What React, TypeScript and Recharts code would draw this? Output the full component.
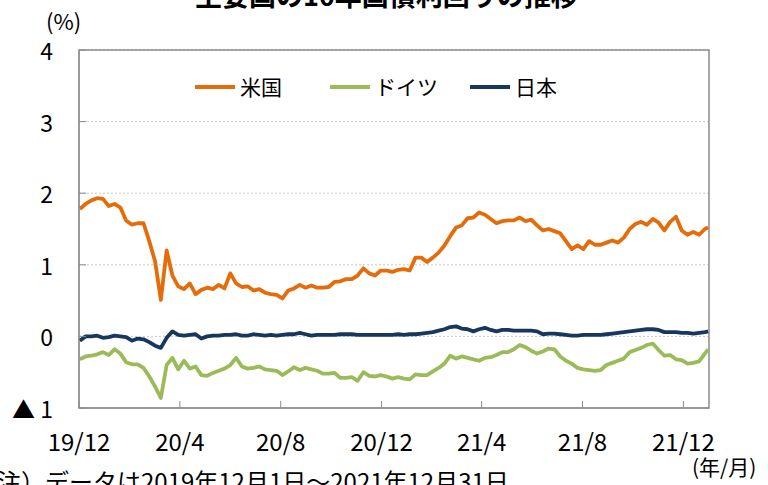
import {
  LineChart,
  Line,
  XAxis,
  YAxis,
  CartesianGrid,
  Legend,
  ReferenceArea,
} from "recharts";

const FONT = '"Noto Sans CJK JP", "Noto Sans", sans-serif';

const SERIES = [
  { key: "us", name: "米国", color: "#E46C0A" },
  { key: "de", name: "ドイツ", color: "#9BBB59" },
  { key: "jp", name: "日本", color: "#17375E" },
];

// weekly readings (Mondays from 2019-12-02), last value is 2021-12-31
const FIRST_WEEK = "2019-12-02";
const LAST_DAY = "2021-12-31";

const US = [
  1.78, 1.85, 1.9, 1.93, 1.92, 1.82, 1.85, 1.8, 1.62, 1.56,
  1.58, 1.58, 1.33, 1.05, 0.51, 1.2, 0.85, 0.7, 0.66, 0.74,
  0.59, 0.65, 0.68, 0.66, 0.72, 0.67, 0.88, 0.74, 0.69, 0.7,
  0.64, 0.66, 0.61, 0.59, 0.58, 0.53, 0.64, 0.67, 0.72, 0.68,
  0.71, 0.68, 0.68, 0.69, 0.76, 0.77, 0.8, 0.8, 0.85, 0.95,
  0.88, 0.85, 0.92, 0.92, 0.9, 0.93, 0.94, 0.92, 1.1, 1.1,
  1.04, 1.1, 1.17, 1.27, 1.4, 1.52, 1.55, 1.65, 1.66, 1.73,
  1.7, 1.64, 1.58, 1.61, 1.62, 1.62, 1.66, 1.61, 1.63, 1.55,
  1.48, 1.5, 1.47, 1.44, 1.33, 1.22, 1.27, 1.22, 1.33, 1.28,
  1.28, 1.31, 1.34, 1.31, 1.38, 1.5, 1.57, 1.6, 1.56, 1.64,
  1.59, 1.48, 1.6, 1.67, 1.48, 1.42, 1.46, 1.42, 1.5, 1.52,
];

const DE = [
  -0.32, -0.28, -0.27, -0.25, -0.22, -0.26, -0.18, -0.24, -0.36, -0.39,
  -0.39, -0.44, -0.56, -0.7, -0.86, -0.4, -0.3, -0.46, -0.34, -0.45,
  -0.42, -0.54, -0.55, -0.51, -0.48, -0.45, -0.4, -0.3, -0.42, -0.45,
  -0.44, -0.42, -0.46, -0.47, -0.48, -0.54, -0.49, -0.43, -0.47, -0.44,
  -0.46, -0.48, -0.52, -0.52, -0.51, -0.58, -0.58, -0.57, -0.62, -0.5,
  -0.55, -0.56, -0.54, -0.56, -0.59, -0.57, -0.59, -0.6, -0.53, -0.54,
  -0.54, -0.49, -0.44, -0.38, -0.27, -0.31, -0.28, -0.3, -0.32, -0.34,
  -0.3, -0.29, -0.26, -0.22, -0.22, -0.18, -0.12, -0.15, -0.2, -0.24,
  -0.21, -0.17, -0.18, -0.28, -0.34, -0.38, -0.44, -0.46, -0.47, -0.48,
  -0.47, -0.4, -0.37, -0.34, -0.31, -0.22, -0.19, -0.16, -0.12, -0.1,
  -0.19, -0.27, -0.26, -0.32, -0.33, -0.38, -0.37, -0.35, -0.24, -0.18,
];

const JP = [
  -0.06, 0.0, 0.0, 0.01, -0.02, -0.01, 0.01, 0.0, -0.01, -0.06,
  -0.03, -0.04, -0.08, -0.13, -0.16, -0.02, 0.07, 0.02, 0.01, 0.02,
  0.03, -0.03, 0.0, 0.01, 0.01, 0.02, 0.02, 0.03, 0.01, 0.01,
  0.03, 0.02, 0.01, 0.02, 0.01, 0.02, 0.03, 0.03, 0.05, 0.03,
  0.01, 0.02, 0.02, 0.02, 0.02, 0.03, 0.03, 0.03, 0.02, 0.02,
  0.02, 0.02, 0.02, 0.02, 0.02, 0.03, 0.02, 0.03, 0.03, 0.04,
  0.05, 0.06, 0.08, 0.1, 0.13, 0.14, 0.11, 0.1, 0.07, 0.1,
  0.12, 0.09, 0.07, 0.09, 0.09, 0.08, 0.08, 0.08, 0.08, 0.07,
  0.03, 0.04, 0.04, 0.03, 0.02, 0.01, 0.01, 0.02, 0.02, 0.02,
  0.02, 0.03, 0.04, 0.05, 0.06, 0.07, 0.08, 0.09, 0.1, 0.1,
  0.09, 0.06, 0.06, 0.06, 0.05, 0.05, 0.04, 0.05, 0.06, 0.07,
];

const X_TICKS = [
  "2019-12-01",
  "2020-04-01",
  "2020-08-01",
  "2020-12-01",
  "2021-04-01",
  "2021-08-01",
  "2021-12-01",
];
const Y_TICKS = [-1, 0, 1, 2, 3, 4];

const X_START = Date.parse("2019-12-01");
const X_END = Date.parse("2022-01-01");
const WEEK = 7 * 24 * 3600 * 1000;

const data = US.map((us, i) => ({
  t:
    i < US.length - 1
      ? Date.parse(FIRST_WEEK) + i * WEEK
      : Date.parse(LAST_DAY),
  us,
  de: DE[i],
  jp: JP[i],
}));

function formatMonth(t: number): string {
  const d = new Date(t);
  return `${String(d.getUTCFullYear()).slice(2)}/${d.getUTCMonth() + 1}`;
}

function formatYTick(v: number): string {
  return v < 0 ? `▲ ${Math.abs(v)}` : String(v);
}

function XTick({ x, y, payload }: any) {
  return (
    <text
      x={x}
      y={y}
      textAnchor="middle"
      dominantBaseline="central"
      fontSize={24}
      fontFamily={FONT}
      fill="#000"
    >
      {formatMonth(payload.value)}
    </text>
  );
}

function YTick({ x, y, payload }: any) {
  return (
    <text
      x={x}
      y={y}
      textAnchor="end"
      dominantBaseline="central"
      fontSize={23}
      fontFamily={FONT}
      fill="#000"
    >
      {formatYTick(payload.value)}
    </text>
  );
}

function LegendContent() {
  const widths = [135, 140, 100];
  return (
    <div style={{ display: "flex", alignItems: "center" }}>
      {SERIES.map((s, i) => (
        <div
          key={s.key}
          style={{ display: "flex", alignItems: "center", width: widths[i] }}
        >
          <svg width={40} height={6} style={{ marginRight: 5 }}>
            <line x1={0} y1={3} x2={40} y2={3} stroke={s.color} strokeWidth={4} />
          </svg>
          <span style={{ fontSize: 21, fontFamily: FONT, lineHeight: 1 }}>
            {s.name}
          </span>
        </div>
      ))}
    </div>
  );
}

export default function App() {
  return (
    <div
      style={{
        position: "absolute",
        left: 0,
        top: 0,
        width: 768,
        height: 485,
        overflow: "hidden",
        background: "#fff",
        fontFamily: FONT,
        color: "#000",
      }}
    >
      <div
        style={{
          position: "absolute",
          left: 195,
          top: -19,
          fontSize: 27,
          fontWeight: "bold",
          lineHeight: 1,
          whiteSpace: "nowrap",
        }}
      >
        主要国の10年国債利回りの推移
      </div>
      <div style={{ position: "absolute", left: 46, top: 9, fontSize: 22, lineHeight: 1 }}>
        (%)
      </div>
      <div style={{ position: "absolute", left: 692, top: 456, fontSize: 21, lineHeight: 1 }}>
        (年/月)
      </div>
      <div
        style={{
          position: "absolute",
          left: -27,
          top: 469,
          fontSize: 24,
          lineHeight: 1,
          whiteSpace: "nowrap",
        }}
      >
        （注）データは2019年12月1日～2021年12月31日
      </div>

      <LineChart
        width={768}
        height={485}
        data={data}
        margin={{ top: 50, right: 59, bottom: 37, left: 19 }}
      >
        <CartesianGrid
          vertical={false}
          stroke="#c8c8c8"
          strokeDasharray="2 2"
        />
        <ReferenceArea
          x1={X_START}
          x2={X_END}
          y1={-1}
          y2={4}
          fill="none"
          stroke="#8c8c8c"
          strokeWidth={1.5}
          fillOpacity={0}
        />
        <XAxis
          dataKey="t"
          type="number"
          scale="time"
          domain={[X_START, X_END]}
          ticks={X_TICKS.map((d) => Date.parse(d))}
          tick={<XTick />}
          interval={0}
          tickSize={-7}
          tickMargin={39}
          height={40}
          stroke="#8c8c8c"
          allowDataOverflow
        />
        <YAxis
          type="number"
          domain={[-1, 4]}
          ticks={Y_TICKS}
          tick={<YTick />}
          tickSize={-7}
          tickMargin={33}
          width={60}
          stroke="#8c8c8c"
          interval={0}
        />
        <Legend
          layout="horizontal"
          verticalAlign="middle"
          content={<LegendContent />}
          wrapperStyle={{ position: "absolute", top: 76, left: 195, width: 420 }}
        />
        {SERIES.map((s) => (
          <Line
            key={s.key}
            dataKey={s.key}
            name={s.name}
            stroke={s.color}
            strokeWidth={3.8}
            dot={false}
            type="linear"
            isAnimationActive={false}
            strokeLinejoin="round"
          />
        ))}
      </LineChart>
    </div>
  );
}
